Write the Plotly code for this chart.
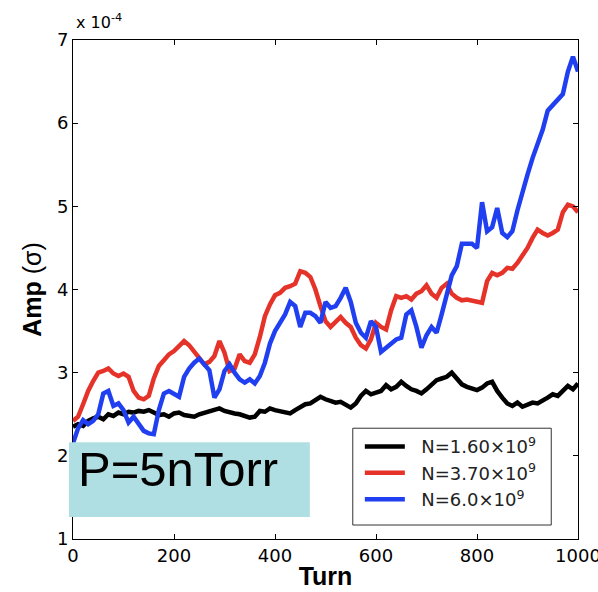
import plotly.graph_objects as go

turns = list(range(0, 1001, 10))

amp_n160 = [2.35, 2.38, 2.36, 2.42, 2.45, 2.47, 2.44, 2.50, 2.48, 2.52,
            2.50, 2.53, 2.52, 2.54, 2.53, 2.55, 2.52, 2.49, 2.50, 2.47,
            2.51, 2.52, 2.49, 2.48, 2.47, 2.50, 2.52, 2.53, 2.55, 2.57,
            2.54, 2.52, 2.51, 2.50, 2.48, 2.46, 2.47, 2.54, 2.53, 2.57,
            2.55, 2.54, 2.52, 2.51, 2.55, 2.59, 2.62, 2.63, 2.67, 2.71,
            2.68, 2.66, 2.64, 2.65, 2.62, 2.58, 2.63, 2.72, 2.78, 2.74,
            2.76, 2.78, 2.85, 2.80, 2.83, 2.89, 2.84, 2.80, 2.78, 2.75,
            2.80, 2.86, 2.91, 2.93, 2.95, 3.00, 2.92, 2.86, 2.83, 2.81,
            2.79, 2.82, 2.87, 2.89, 2.78, 2.70, 2.63, 2.60, 2.64, 2.59,
            2.62, 2.64, 2.63, 2.66, 2.70, 2.74, 2.72, 2.78, 2.84, 2.80,
            2.87]

amp_n370 = [2.42, 2.47, 2.62, 2.78, 2.90, 3.00, 3.02, 3.05, 2.99, 2.96,
            2.99, 2.95, 2.78, 2.70, 2.68, 2.72, 2.93, 3.08, 3.15, 3.22,
            3.26, 3.32, 3.38, 3.33, 3.25, 3.18, 3.10, 3.13, 3.20, 3.38,
            3.24, 3.02, 3.05, 3.22, 3.14, 3.12, 3.22, 3.43, 3.68, 3.82,
            3.93, 3.96, 4.02, 4.04, 4.07, 4.22, 4.20, 4.15, 4.00, 3.80,
            3.62, 3.55, 3.62, 3.67, 3.60, 3.55, 3.42, 3.33, 3.29, 3.40,
            3.60, 3.55, 3.52, 3.75, 3.92, 3.90, 3.92, 3.88, 3.95, 3.98,
            4.05, 3.95, 3.90, 4.02, 4.07, 3.95, 3.90, 3.87, 3.88, 3.87,
            3.86, 3.84, 4.10, 4.20, 4.17, 4.20, 4.26, 4.25, 4.32, 4.40,
            4.50, 4.62, 4.72, 4.68, 4.65, 4.68, 4.72, 4.93, 5.02, 5.00,
            4.93]

amp_n600 = [2.15, 2.33, 2.43, 2.38, 2.42, 2.50, 2.75, 2.78, 2.60, 2.63,
            2.55, 2.40, 2.47, 2.38, 2.30, 2.27, 2.26, 2.55, 2.75, 2.78,
            2.74, 2.71, 2.95, 3.05, 3.12, 3.17, 3.10, 3.03, 2.70, 2.80,
            3.02, 3.10, 3.00, 2.92, 2.88, 2.92, 2.87, 2.96, 3.12, 3.35,
            3.50, 3.60, 3.70, 3.85, 3.80, 3.55, 3.72, 3.72, 3.68, 3.60,
            3.85, 3.78, 3.80, 3.90, 4.02, 3.85, 3.60, 3.48, 3.42, 3.62,
            3.55, 3.25, 3.30, 3.36, 3.40, 3.42, 3.70, 3.75, 3.55, 3.30,
            3.45, 3.55, 3.48, 3.70, 3.95, 4.17, 4.28, 4.55, 4.55, 4.55,
            4.50, 5.05, 4.70, 4.75, 4.98, 4.68, 4.63, 4.70, 4.95, 5.18,
            5.38, 5.58, 5.75, 5.92, 6.15, 6.22, 6.30, 6.35, 6.62, 6.80,
            6.62]

series_names = ["\u00a0\u00a0N=1.60×10<sup>9</sup>", "\u00a0\u00a0N=3.70×10<sup>9</sup>",
                "\u00a0\u00a0N=6.0×10<sup>9</sup>"]
series_colors = ["#000000", "#e5332a", "#1f3ff0"]
x_ticks = [0, 200, 400, 600, 800, 1000]
y_ticks = [1, 2, 3, 4, 5, 6, 7]

FONT = "Liberation Sans, Arial, Helvetica, sans-serif"
TFONT = "DejaVu Sans, sans-serif"

fig = go.Figure()
for ys, name, col in zip([amp_n160, amp_n370, amp_n600], series_names, series_colors):
    fig.add_trace(go.Scatter(x=turns, y=ys, mode="lines", name=name,
                             line=dict(color=col, width=4.5)))

# legend frame
fig.add_shape(type="rect", xref="paper", yref="paper",
              x0=0.554, x1=0.947, y0=0.028, y1=0.222,
              fillcolor="white", line=dict(width=1, color="#333333"), layer="above")
# label box
fig.add_shape(type="rect", xref="paper", yref="paper",
              x0=-0.008, x1=0.469, y0=0.044, y1=0.194,
              fillcolor="#b0dfe3", line=dict(width=0), layer="above")
fig.add_annotation(text="P=5nTorr", xref="paper", yref="paper",
                   x=0.006, y=0.141, xanchor="left", yanchor="middle",
                   showarrow=False, font=dict(family=FONT, size=49, color="black"))
fig.add_annotation(text="x 10<sup>-4</sup>", xref="paper", yref="paper",
                   x=0.002, y=1.0, xanchor="left", yanchor="bottom", yshift=6,
                   showarrow=False, font=dict(family=TFONT, size=16, color="black"))

axis_common = dict(showline=True, linecolor="black", linewidth=1, mirror="ticks",
                   ticks="inside", ticklen=5, tickcolor="black", showgrid=False,
                   zeroline=False, automargin=False, ticklabeloverflow="allow",
                   tickfont=dict(family=TFONT, size=18, color="black"))

fig.update_layout(
    width=598, height=592,
    margin=dict(l=73, r=20, t=40, b=53, autoexpand=False),
    plot_bgcolor="white", paper_bgcolor="white",
    xaxis=dict(range=[0, 1000], tickvals=x_ticks, ticktext=[str(v) for v in x_ticks],
               title=dict(text="<b>Turn</b>", font=dict(family=FONT, size=25, color="black"), standoff=2),
               **axis_common),
    yaxis=dict(range=[1, 7], tickvals=y_ticks, ticktext=[str(v) for v in y_ticks],
               title=dict(text="<b>Amp</b> (σ)", font=dict(family=FONT, size=25, color="black"), standoff=8),
               **axis_common),
    legend=dict(x=0.568, y=0.222, xanchor="left", yanchor="top",
                bgcolor="rgba(0,0,0,0)", borderwidth=0,
                font=dict(family=TFONT, size=18, color="#222222"),
                tracegroupgap=0, itemwidth=40),
    showlegend=True,
)

fig.write_html("out.html", config={"displayModeBar": False},
               post_script="document.body.style.margin='0';document.body.style.padding='0';")
